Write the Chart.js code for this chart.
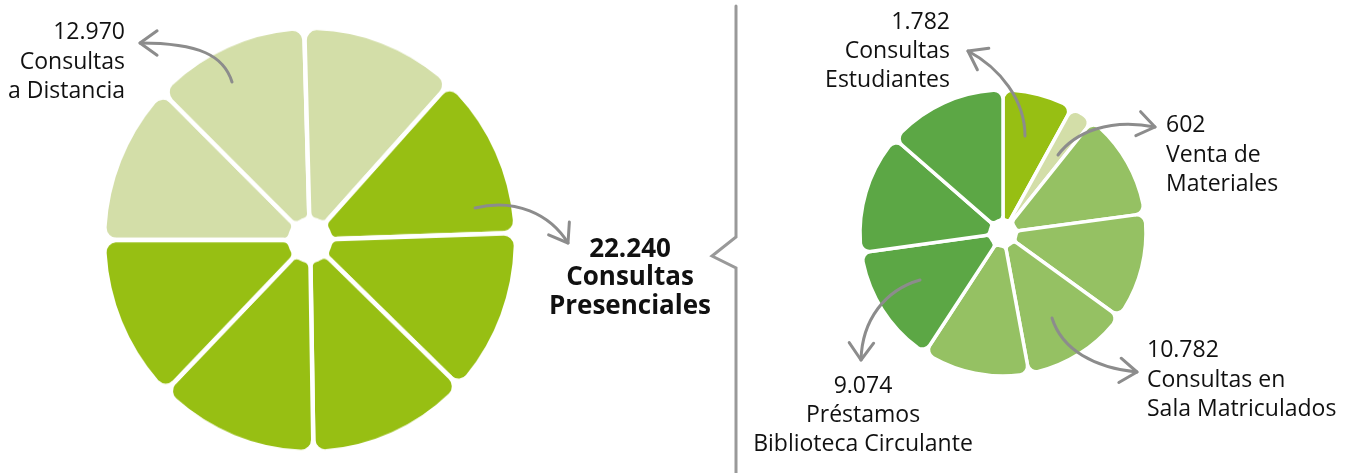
<!DOCTYPE html>
<html lang="es">
<head>
<meta charset="utf-8">
<title>Consultas</title>
<script src="https://cdn.jsdelivr.net/npm/chart.js@4.4.1/dist/chart.umd.min.js"></script>
<style>
    html, body { margin: 0; padding: 0; background: #fff; }
    #stage { position: relative; width: 1354px; height: 473px; overflow: hidden; font-family: 'Open Sans', sans-serif; }
    #stage canvas { position: absolute; left: 0; top: 0; }
    #wheelLeft { transform: scaleY(1.03); transform-origin: 310px 240px; }
    .lbl { position: absolute; white-space: nowrap; color: #111; font-size: 23px; line-height: 29.3px; }
    .lbl.bold { font-weight: 700; font-size: 26px; line-height: 28.5px; }
</style>
</head>
<body>
<div id="stage">
    <canvas id="wheelLeft" width="1354" height="473"></canvas>
    <canvas id="wheelRight" width="1354" height="473"></canvas>
</div>

<script>
// Totals by type of consultation
const leftNames = [['Consultas', 'a Distancia'], ['Consultas', 'Presenciales']];
const leftValues = [12970, 22240];
const leftPieces = [3, 5];            // wheel pieces per category
const leftColors = ['#d3dea8', '#97bf13'];

// Breakdown of the in-person consultations
const rightNames = [['Consultas', 'Estudiantes'], ['Venta de', 'Materiales'], ['Consultas en', 'Sala Matriculados'], ['Préstamos', 'Biblioteca Circulante']];
const rightValues = [1782, 602, 10782, 9074];
const rightPieces = [1, 1, 4, 3];
const rightColors = ['#97bf13', '#d3dea8', '#95c163', '#5ca745'];

const W = 1354, H = 473;
const grey = '#8c8c8c';

// split each category into equal pieces so the wheel looks like citrus segments
function buildSegments(values, pieces, colors) {
    const data = [], bg = [];
    values.forEach((v, i) => {
        for (let k = 0; k < pieces[i]; k++) {
            data.push(v / pieces[i]);
            bg.push(colors[i]);
        }
    });
    return { data, bg };
}

function fmt(n) {
    return String(n).replace(/\B(?=(\d{3})+(?!\d))/g, '.');
}

function wheelConfig(values, pieces, colors, o) {
    const seg = buildSegments(values, pieces, colors);
    return {
        type: 'doughnut',
        data: {
            labels: seg.data.map((_, i) => i),
            datasets: [{
                data: seg.data,
                backgroundColor: seg.bg,
                borderColor: '#fff',
                borderWidth: o.gap,
                borderJoinStyle: 'round',
                borderRadius: { outerStart: o.round, outerEnd: o.round, innerStart: o.tip, innerEnd: o.tip }
            }]
        },
        options: {
            responsive: false,
            devicePixelRatio: 1,
            animation: false,
            events: [],
            rotation: o.rotation,
            radius: o.radius,
            cutout: (o.hole / o.radius * 100) + '%',
            layout: { padding: o.padding },
            plugins: { legend: { display: false }, tooltip: { enabled: false } }
        },
        plugins: o.plugins || []
    };
}

// curved callout arrows and the brace between both wheels
function drawArrow(ctx, p) {
    const [a, b, c, d] = p;
    ctx.beginPath();
    ctx.moveTo(a[0], a[1]);
    ctx.bezierCurveTo(b[0], b[1], c[0], c[1], d[0], d[1]);
    ctx.stroke();
    const ang = Math.atan2(d[1] - c[1], d[0] - c[0]);
    const len = 21, spread = 0.62;
    ctx.beginPath();
    ctx.moveTo(d[0] - len * Math.cos(ang - spread), d[1] - len * Math.sin(ang - spread));
    ctx.lineTo(d[0], d[1]);
    ctx.lineTo(d[0] - len * Math.cos(ang + spread), d[1] - len * Math.sin(ang + spread));
    ctx.stroke();
}

const callouts = {
    id: 'callouts',
    afterDraw(chart) {
        const ctx = chart.ctx;
        ctx.save();
        ctx.strokeStyle = grey;
        ctx.lineWidth = 3;
        ctx.lineCap = 'round';
        ctx.lineJoin = 'round';
        [
            [[232, 82], [224, 56], [200, 43], [140, 43]],
            [[475, 208], [515, 198], [550, 214], [568, 243]],
            [[1025, 136], [1025, 100], [1000, 68], [968, 51]],
            [[1058, 155], [1075, 132], [1110, 118], [1155, 127]],
            [[1052, 318], [1062, 350], [1095, 368], [1137, 372]],
            [[920, 280], [885, 290], [862, 320], [861, 360]]
        ].forEach(p => drawArrow(ctx, p));

        ctx.strokeStyle = '#999';
        ctx.lineJoin = 'miter';
        ctx.beginPath();
        ctx.moveTo(736, 6);
        ctx.lineTo(736, 237);
        ctx.lineTo(712, 256);
        ctx.lineTo(736, 268);
        ctx.lineTo(736, H);
        ctx.stroke();
        ctx.restore();
    }
};

new Chart(document.getElementById('wheelLeft'), wheelConfig(leftValues, leftPieces, leftColors, {
    rotation: -90, radius: 206, hole: 20, gap: 4.5, round: 12, tip: 9,
    padding: { left: 0, top: 7, right: W - 620, bottom: 0 }
}));

new Chart(document.getElementById('wheelRight'), wheelConfig(rightValues, rightPieces, rightColors, {
    rotation: 0, radius: 143, hole: 13, gap: 3.5, round: 9, tip: 6,
    padding: { left: 2 * 1003 - W, top: 0, right: 0, bottom: H - 466 },
    plugins: [callouts]
}));

// text labels, placed by the baseline of their first line
const stage = document.getElementById('stage');
const probe = document.createElement('canvas').getContext('2d');

function placeLabel(lines, o) {
    const el = document.createElement('div');
    el.className = 'lbl' + (o.bold ? ' bold' : '');
    el.innerHTML = lines.join('<br>');
    stage.appendChild(el);
    const cs = getComputedStyle(el);
    probe.font = cs.fontWeight + ' ' + cs.fontSize + ' ' + cs.fontFamily;
    const m = probe.measureText('Hg');
    const lh = parseFloat(cs.lineHeight);
    const asc = m.fontBoundingBoxAscent, desc = m.fontBoundingBoxDescent;
    el.style.top = (o.baseline - ((lh - asc - desc) / 2 + asc)) + 'px';
    if (o.align === 'right') {
        el.style.right = (W - o.x) + 'px';
        el.style.textAlign = 'right';
    } else if (o.align === 'center') {
        el.style.left = (o.x - 200) + 'px';
        el.style.width = '400px';
        el.style.textAlign = 'center';
    } else {
        el.style.left = o.x + 'px';
    }
}

placeLabel([fmt(leftValues[0])].concat(leftNames[0]), { x: 125, baseline: 40, align: 'right' });
placeLabel([fmt(leftValues[1])].concat(leftNames[1]), { x: 630, baseline: 257, align: 'center', bold: true });

placeLabel([fmt(rightValues[0])].concat(rightNames[0]), { x: 950, baseline: 29.5, align: 'right' });
placeLabel([fmt(rightValues[1])].concat(rightNames[1]), { x: 1166, baseline: 133, align: 'left' });
placeLabel([fmt(rightValues[2])].concat(rightNames[2]), { x: 1147, baseline: 358, align: 'left' });
placeLabel([fmt(rightValues[3])].concat(rightNames[3]), { x: 863, baseline: 393.5, align: 'center' });
</script>
</body>
</html>
